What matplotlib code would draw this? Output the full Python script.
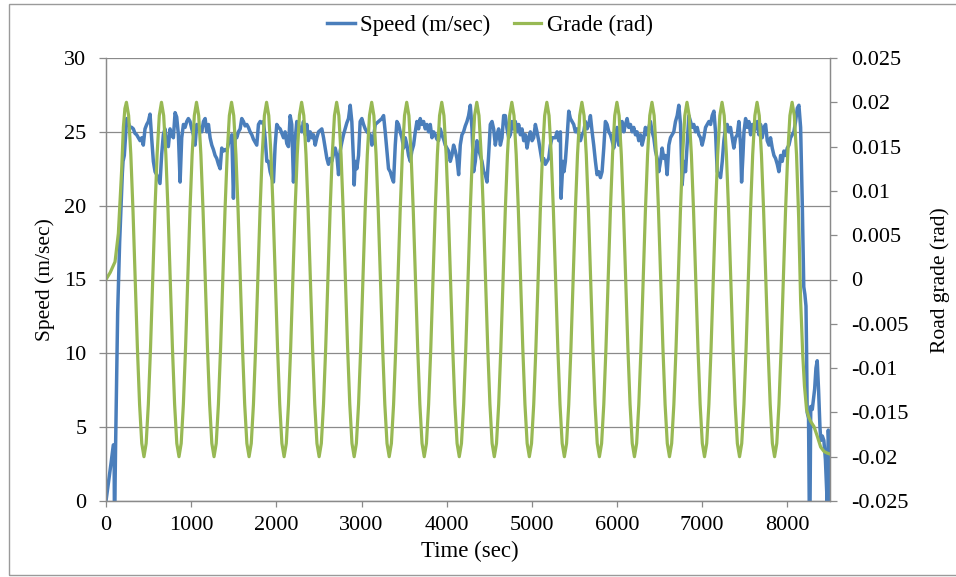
import numpy as np
import matplotlib
matplotlib.use("Agg")
import matplotlib.pyplot as plt
from matplotlib.patches import Rectangle
from matplotlib.ticker import FuncFormatter

# ---------------------------------------------------------------- data
# Vehicle speed trace (time in s, speed in m/s)
speed_time = [
    0, 30, 60, 86, 95, 98, 104, 112, 125, 137,
    160, 192, 200, 215, 243, 262, 282, 302, 321, 340,
    360, 380, 400, 420, 438, 458, 478, 497, 517, 537,
    556, 576, 595, 615, 634, 654, 673, 693, 712, 732,
    752, 771, 791, 811, 830, 850, 870, 889, 909, 928,
    948, 967, 987, 1007, 1026, 1046, 1065, 1085, 1105, 1124,
    1144, 1164, 1183, 1203, 1222, 1242, 1261, 1281, 1300, 1320,
    1340, 1359, 1379, 1398, 1418, 1438, 1457, 1477, 1496, 1516,
    1535, 1555, 1575, 1594, 1614, 1633, 1653, 1672, 1692, 1712,
    1731, 1751, 1770, 1790, 1810, 1829, 1849, 1868, 1888, 1908,
    1927, 1947, 1966, 1986, 2005, 2025, 2045, 2064, 2084, 2103,
    2123, 2142, 2162, 2181, 2201, 2220, 2240, 2260, 2279, 2299,
    2318, 2338, 2358, 2377, 2397, 2417, 2436, 2456, 2475, 2495,
    2515, 2534, 2554, 2573, 2593, 2612, 2632, 2651, 2671, 2691,
    2710, 2730, 2749, 2769, 2788, 2808, 2827, 2847, 2867, 2886,
    2906, 2914, 2926, 2945, 2965, 2984, 3004, 3024, 3043, 3063,
    3083, 3102, 3122, 3141, 3161, 3180, 3200, 3220, 3239, 3259,
    3278, 3298, 3317, 3337, 3357, 3376, 3396, 3415, 3435, 3454,
    3474, 3494, 3513, 3533, 3552, 3572, 3591, 3611, 3631, 3650,
    3670, 3689, 3709, 3729, 3748, 3768, 3787, 3807, 3827, 3846,
    3866, 3885, 3905, 3925, 3944, 3964, 3983, 4003, 4022, 4042,
    4061, 4081, 4101, 4120, 4140, 4159, 4179, 4198, 4218, 4238,
    4257, 4277, 4297, 4316, 4336, 4355, 4375, 4395, 4414, 4434,
    4453, 4473, 4492, 4512, 4532, 4551, 4571, 4590, 4610, 4630,
    4649, 4669, 4688, 4708, 4728, 4747, 4767, 4786, 4806, 4826,
    4845, 4865, 4884, 4904, 4924, 4943, 4963, 4982, 5002, 5021,
    5041, 5060, 5080, 5100, 5119, 5139, 5158, 5178, 5198, 5217,
    5237, 5256, 5276, 5295, 5315, 5335, 5342, 5365, 5377, 5393,
    5413, 5433, 5452, 5472, 5491, 5511, 5531, 5550, 5570, 5589,
    5609, 5628, 5648, 5668, 5687, 5707, 5726, 5746, 5765, 5785,
    5805, 5824, 5844, 5863, 5883, 5903, 5922, 5942, 5961, 5981,
    6000, 6020, 6040, 6059, 6079, 6098, 6118, 6137, 6157, 6177,
    6196, 6216, 6235, 6255, 6275, 6294, 6314, 6333, 6353, 6373,
    6392, 6412, 6431, 6451, 6471, 6490, 6510, 6529, 6549, 6568,
    6588, 6608, 6627, 6647, 6666, 6686, 6706, 6725, 6745, 6764,
    6784, 6804, 6823, 6843, 6862, 6882, 6901, 6921, 6941, 6960,
    6980, 6999, 7019, 7039, 7058, 7078, 7098, 7117, 7137, 7156,
    7176, 7196, 7215, 7235, 7254, 7274, 7293, 7313, 7332, 7352,
    7371, 7391, 7411, 7430, 7450, 7462, 7478, 7490, 7509, 7529,
    7548, 7568, 7587, 7607, 7626, 7646, 7665, 7685, 7704, 7724,
    7744, 7763, 7783, 7802, 7822, 7842, 7861, 7881, 7900, 7920,
    7939, 7959, 7979, 7998, 8018, 8037, 8057, 8076, 8096, 8116,
    8135, 8155, 8175, 8192, 8205, 8218, 8225, 8232, 8248, 8256,
    8266, 8274, 8292, 8320, 8335, 8350, 8366, 8382, 8392, 8410,
    8428, 8446, 8466, 8480, 8495, 8505,
]
speed_value = [
    0.0, 1.3, 2.6, 3.8, 3.8, 0.0, 0.0, 3.5, 8.2, 12.8,
    17.5, 22.2, 23.0, 23.4, 25.9, 25.6, 25.3, 25.3, 25.2, 24.9,
    24.8, 24.6, 24.4, 24.6, 24.1, 25.2, 25.5, 25.7, 26.2, 24.5,
    23.0, 22.3, 22.1, 21.8, 21.5, 23.5, 24.8, 25.2, 24.3, 24.0,
    25.2, 24.8, 24.6, 26.3, 26.0, 24.8, 21.6, 24.6, 25.5, 25.3,
    25.7, 25.9, 25.7, 25.2, 24.8, 24.1, 25.5, 25.2, 25.3, 25.0,
    25.7, 25.9, 25.0, 25.5, 24.6, 24.1, 23.8, 23.4, 23.2, 22.8,
    22.5, 23.9, 23.7, 23.8, 23.7, 24.2, 24.5, 24.8, 20.5, 24.8,
    24.6, 25.0, 25.2, 25.9, 25.7, 25.4, 25.5, 25.3, 25.0, 24.8,
    24.5, 24.3, 24.1, 25.5, 25.7, 25.6, 25.7, 24.6, 23.0, 23.0,
    22.3, 21.9, 21.6, 24.1, 25.5, 25.3, 25.2, 24.9, 24.6, 25.0,
    24.2, 24.0, 26.1, 25.5, 21.6, 24.4, 25.7, 25.5, 25.2, 25.0,
    25.7, 24.8, 25.5, 24.4, 25.0, 24.6, 24.8, 24.1, 24.6, 25.0,
    25.1, 25.2, 24.6, 23.9, 23.2, 22.8, 23.2, 23.0, 23.5, 23.9,
    23.4, 22.1, 23.7, 24.3, 24.8, 25.2, 25.6, 25.9, 26.8, 25.7,
    23.0, 21.4, 23.0, 22.5, 23.4, 25.7, 25.9, 25.5, 25.2, 25.0,
    24.9, 24.8, 24.1, 24.6, 25.5, 25.6, 25.7, 25.8, 25.9, 26.1,
    25.0, 23.7, 22.5, 22.3, 21.9, 21.6, 24.1, 25.7, 25.5, 25.0,
    24.6, 23.9, 24.6, 24.1, 23.4, 23.0, 23.7, 24.1, 25.0, 25.7,
    25.2, 25.9, 25.5, 25.7, 25.2, 25.5, 25.0, 25.5, 24.6, 25.0,
    24.8, 24.5, 24.4, 25.2, 24.8, 24.5, 24.1, 23.9, 23.7, 23.0,
    23.4, 24.1, 23.7, 23.2, 22.1, 24.1, 24.8, 25.0, 25.4, 25.7,
    26.1, 26.8, 25.2, 22.3, 23.0, 24.4, 23.8, 23.4, 23.0, 22.3,
    22.1, 21.6, 23.4, 25.5, 25.7, 25.2, 24.1, 24.8, 25.2, 24.1,
    24.6, 26.1, 26.1, 25.2, 24.6, 24.8, 25.7, 25.2, 25.7, 25.0,
    25.5, 24.8, 25.2, 24.4, 24.8, 23.9, 24.6, 25.0, 24.4, 24.6,
    25.5, 25.0, 24.4, 23.7, 23.0, 23.2, 22.8, 23.0, 23.2, 24.1,
    24.6, 24.6, 24.6, 25.0, 24.4, 25.0, 20.5, 23.0, 22.3, 23.0,
    24.6, 26.4, 25.9, 25.7, 25.5, 25.0, 25.2, 24.8, 24.4, 24.8,
    25.0, 25.7, 25.2, 25.5, 26.1, 25.0, 24.1, 23.0, 22.1, 22.3,
    21.9, 22.3, 23.9, 25.7, 25.5, 25.0, 24.8, 24.4, 23.9, 24.6,
    25.3, 24.1, 25.3, 25.7, 25.0, 25.5, 25.9, 25.3, 25.5, 25.0,
    25.3, 24.8, 25.0, 24.4, 24.8, 24.1, 24.6, 25.3, 24.8, 25.3,
    25.7, 25.0, 24.6, 23.7, 23.2, 22.3, 23.0, 23.9, 23.2, 23.4,
    22.1, 24.1, 24.6, 24.8, 25.0, 25.7, 26.1, 26.8, 25.5, 21.4,
    23.0, 22.3, 24.1, 26.1, 25.7, 25.3, 25.5, 25.0, 25.3, 24.8,
    24.6, 24.1, 24.6, 25.3, 25.5, 25.7, 25.5, 26.1, 26.4, 25.0,
    22.3, 22.1, 21.9, 23.0, 24.4, 25.3, 25.5, 25.0, 25.3, 24.6,
    23.9, 24.6, 24.8, 25.7, 24.1, 21.6, 23.4, 25.0, 25.9, 25.3,
    25.7, 24.8, 25.5, 25.0, 25.3, 25.7, 24.8, 25.5, 24.6, 25.3,
    25.5, 24.4, 24.1, 24.6, 23.9, 23.4, 23.2, 22.8, 22.3, 23.4,
    23.0, 23.7, 23.4, 23.9, 24.1, 24.6, 24.8, 25.0, 25.7, 26.6,
    26.8, 25.3, 20.0, 14.5, 14.0, 13.2, 10.2, 6.0, 5.6, 0.0,
    0.0, 6.4, 6.2, 7.6, 9.0, 9.5, 7.5, 5.0, 4.1, 4.4,
    4.1, 2.8, 0.0, 4.8, 3.0, 0.0,
]

# Road grade (rad): start-up ramp, regular hills, run-out at the end
grade_head_time = [0, 50, 106, 145, 184, 204, 222]
grade_head_value = [0.0, 0.0008, 0.0020, 0.0052, 0.0124, 0.0172, 0.0193]

grade_hills_start, grade_hills_end = 240, 8055
grade_hills_value = [
    0.0200, 0.0185, 0.0141, 0.0077, 0.0, -0.0077, -0.0141, -0.0185, -0.0200, -0.0185, -0.0141, -0.0077, 0.0, 0.0077, 0.0141, 0.0185,
    0.0200, 0.0185, 0.0141, 0.0077, 0.0, -0.0077, -0.0141, -0.0185, -0.0200, -0.0185, -0.0141, -0.0077, 0.0, 0.0077, 0.0141, 0.0185,
    0.0200, 0.0185, 0.0141, 0.0077, 0.0, -0.0077, -0.0141, -0.0185, -0.0200, -0.0185, -0.0141, -0.0077, 0.0, 0.0077, 0.0141, 0.0185,
    0.0200, 0.0185, 0.0141, 0.0077, 0.0, -0.0077, -0.0141, -0.0185, -0.0200, -0.0185, -0.0141, -0.0077, 0.0, 0.0077, 0.0141, 0.0185,
    0.0200, 0.0185, 0.0141, 0.0077, 0.0, -0.0077, -0.0141, -0.0185, -0.0200, -0.0185, -0.0141, -0.0077, 0.0, 0.0077, 0.0141, 0.0185,
    0.0200, 0.0185, 0.0141, 0.0077, 0.0, -0.0077, -0.0141, -0.0185, -0.0200, -0.0185, -0.0141, -0.0077, 0.0, 0.0077, 0.0141, 0.0185,
    0.0200, 0.0185, 0.0141, 0.0077, 0.0, -0.0077, -0.0141, -0.0185, -0.0200, -0.0185, -0.0141, -0.0077, 0.0, 0.0077, 0.0141, 0.0185,
    0.0200, 0.0185, 0.0141, 0.0077, 0.0, -0.0077, -0.0141, -0.0185, -0.0200, -0.0185, -0.0141, -0.0077, 0.0, 0.0077, 0.0141, 0.0185,
    0.0200, 0.0185, 0.0141, 0.0077, 0.0, -0.0077, -0.0141, -0.0185, -0.0200, -0.0185, -0.0141, -0.0077, 0.0, 0.0077, 0.0141, 0.0185,
    0.0200, 0.0185, 0.0141, 0.0077, 0.0, -0.0077, -0.0141, -0.0185, -0.0200, -0.0185, -0.0141, -0.0077, 0.0, 0.0077, 0.0141, 0.0185,
    0.0200, 0.0185, 0.0141, 0.0077, 0.0, -0.0077, -0.0141, -0.0185, -0.0200, -0.0185, -0.0141, -0.0077, 0.0, 0.0077, 0.0141, 0.0185,
    0.0200, 0.0185, 0.0141, 0.0077, 0.0, -0.0077, -0.0141, -0.0185, -0.0200, -0.0185, -0.0141, -0.0077, 0.0, 0.0077, 0.0141, 0.0185,
    0.0200, 0.0185, 0.0141, 0.0077, 0.0, -0.0077, -0.0141, -0.0185, -0.0200, -0.0185, -0.0141, -0.0077, 0.0, 0.0077, 0.0141, 0.0185,
    0.0200, 0.0185, 0.0141, 0.0077, 0.0, -0.0077, -0.0141, -0.0185, -0.0200, -0.0185, -0.0141, -0.0077, 0.0, 0.0077, 0.0141, 0.0185,
    0.0200, 0.0185, 0.0141, 0.0077, 0.0, -0.0077, -0.0141, -0.0185, -0.0200, -0.0185, -0.0141, -0.0077, 0.0, 0.0077, 0.0141, 0.0185,
    0.0200, 0.0185, 0.0141, 0.0077, 0.0, -0.0077, -0.0141, -0.0185, -0.0200, -0.0185, -0.0141, -0.0077, 0.0, 0.0077, 0.0141, 0.0185,
    0.0200, 0.0185, 0.0141, 0.0077, 0.0, -0.0077, -0.0141, -0.0185, -0.0200, -0.0185, -0.0141, -0.0077, 0.0, 0.0077, 0.0141, 0.0185,
    0.0200, 0.0185, 0.0141, 0.0077, 0.0, -0.0077, -0.0141, -0.0185, -0.0200, -0.0185, -0.0141, -0.0077, 0.0, 0.0077, 0.0141, 0.0185,
    0.0200, 0.0185, 0.0141, 0.0077, 0.0, -0.0077, -0.0141, -0.0185, -0.0200, -0.0185, -0.0141, -0.0077, 0.0, 0.0077, 0.0141, 0.0185,
    0.0200,
]

grade_tail_time = [8081, 8107, 8132, 8155, 8180, 8200, 8225, 8250, 8272,
                   8312, 8351, 8390, 8429, 8469, 8500]
grade_tail_value = [0.0185, 0.0141, 0.0070, -0.0023, -0.0085, -0.0120, -0.0147,
                    -0.0155, -0.0160, -0.0166, -0.0177, -0.0189, -0.0194,
                    -0.0196, -0.0197]

x_ticks = [0, 1000, 2000, 3000, 4000, 5000, 6000, 7000, 8000]
speed_ticks = [0, 5, 10, 15, 20, 25, 30]
grade_ticks = [-0.025, -0.02, -0.015, -0.01, -0.005, 0, 0.005, 0.01, 0.015, 0.02, 0.025]

assert len(speed_time) == len(speed_value)

# ---------------------------------------------------------------- figure
plt.rcParams['font.family'] = ['Liberation Serif', 'DejaVu Serif']
FS_TICK = 16
FS_TEXT = 16.5
FS_VERT = 15.5
GRAY = '#8a8a8a'
BLUE = '#4A7EBB'
GREEN = '#98B954'

W, H = 956, 577
fig = plt.figure(figsize=(W / 100, H / 100), dpi=100)
fig.patch.set_facecolor('white')

# outer chart frame (open on the right, where it runs off the canvas)
fig.patches.append(Rectangle((8.5 / W, 2.0 / H), 1.2, 1 - 5.5 / H,
                             transform=fig.transFigure, fill=False,
                             edgecolor='#9a9a9a', lw=1.0, clip_on=False))

L, R, T, B = 106, 830, 58, 501
ax = fig.add_axes([L / W, 1 - B / H, (R - L) / W, (B - T) / H])
ax2 = ax.twinx()

grade_hills_time = np.linspace(grade_hills_start, grade_hills_end, len(grade_hills_value))
grade_time = np.concatenate([grade_head_time, grade_hills_time, grade_tail_time])
grade_value = np.concatenate([grade_head_value, grade_hills_value, grade_tail_value])

line_speed, = ax.plot(speed_time, speed_value, color=BLUE, lw=2.5,
                      solid_joinstyle='round', label='Speed (m/sec)')
line_grade, = ax2.plot(grade_time, grade_value, color=GREEN, lw=2.3,
                       solid_joinstyle='round', label='Grade (rad)')

ax.set_xlim(0, 8500)
ax.set_ylim(0, 30)
ax2.set_ylim(-0.025, 0.025)
ax.set_xticks(x_ticks)
ax.set_yticks(speed_ticks)
ax2.set_yticks(grade_ticks)


def grade_fmt(v, _pos):
    v = round(v, 4)
    if abs(v) < 1e-9:
        return '0'
    return f'{v:g}'


ax2.yaxis.set_major_formatter(FuncFormatter(grade_fmt))

ax.yaxis.grid(True, color=GRAY, lw=0.9)
ax.set_axisbelow(True)

for a in (ax, ax2):
    for sp in a.spines.values():
        sp.set_color(GRAY)
        sp.set_linewidth(0.9)
    a.spines['top'].set_visible(False)

ax.tick_params(axis='x', direction='out', length=4, width=0.9, color=GRAY,
               labelsize=FS_TICK, pad=7)
ax.tick_params(axis='y', direction='out', length=5, width=0.9, color=GRAY,
               labelsize=FS_TICK, pad=9)
ax2.tick_params(axis='y', direction='out', length=5, width=0.9, color=GRAY,
                labelsize=FS_TICK, pad=10)

# axis titles
fig.text(45 / W, 1 - 280 / H, 'Speed (m/sec)', rotation=90, ha='center',
         va='center', fontsize=FS_VERT)
fig.text(940 / W, 1 - 280 / H, 'Road grade (rad)', rotation=90, ha='center',
         va='center', fontsize=FS_VERT)
fig.text(470 / W, 1 - 551 / H, 'Time (sec)', ha='center', va='center',
         fontsize=FS_TEXT)

fig.legend(handles=[line_speed, line_grade], loc='center',
           bbox_to_anchor=(490 / W, 1 - 25 / H), ncol=2, frameon=False,
           fontsize=FS_TEXT, handlelength=1.2, handletextpad=0.25,
           columnspacing=1.0, borderaxespad=0)

fig.savefig('out.png', dpi=100, facecolor='white')
